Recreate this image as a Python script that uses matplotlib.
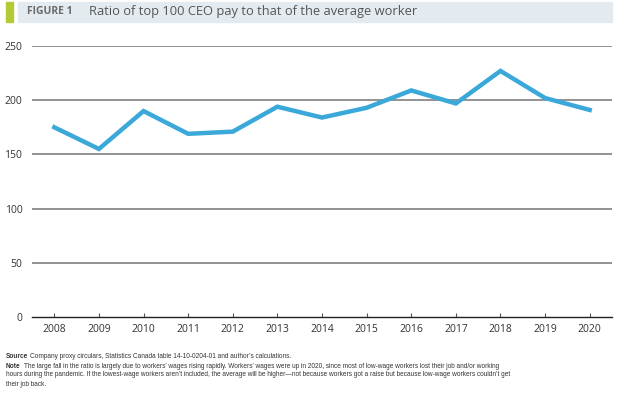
import matplotlib
matplotlib.use('Agg')
import matplotlib.pyplot as plt
from matplotlib.patches import Rectangle

years = [2008, 2009, 2010, 2011, 2012, 2013, 2014, 2015, 2016, 2017, 2018, 2019, 2020]
ratio = [175, 155, 190, 169, 171, 194, 184, 193, 209, 197, 227, 202, 191]
y_ticks = [0, 50, 100, 150, 200, 250]

title_tag = 'FIGURE 1'
title_text = 'Ratio of top 100 CEO pay to that of the average worker'
source_text = 'Company proxy circulars, Statistics Canada table 14-10-0204-01 and author\u2019s calculations.'
note_lines = [
    'The large fall in the ratio is largely due to workers\u2019 wages rising rapidly. Workers\u2019 wages were up in 2020, since most of low-wage workers lost their job and/or working',
    'hours during the pandemic. If the lowest-wage workers aren\u2019t included, the average will be higher\u2014not because workers got a raise but because low-wage workers couldn\u2019t get',
    'their job back.',
]

plt.rcParams['font.family'] = ['Open Sans', 'DejaVu Sans']
W, H = 640, 396
fig = plt.figure(figsize=(6.4, 3.96), dpi=100)

# title bar
fig.patches.append(Rectangle((18 / W, 1 - 22 / H), (612 - 18) / W, 20 / H,
                             transform=fig.transFigure, color='#e3ebf0', zorder=0))
fig.patches.append(Rectangle((6 / W, 1 - 22 / H), 7 / W, 20 / H,
                             transform=fig.transFigure, color='#b5c934', zorder=0))
fig.text(27 / W, 1 - 12 / H, title_tag, fontsize=7.5, fontweight='bold', color='#6b6b6b', va='center')
fig.text(89 / W, 1 - 12 / H, title_text, fontsize=9.3, color='#555555', va='center')

ax = fig.add_axes([32 / W, 1 - 317 / H, (612 - 32) / W, (317 - 46) / H])
ax.plot(years, ratio, color='#3aa8d8', lw=3.2, solid_joinstyle='miter', zorder=3)
ax.set_xlim(2007.5, 2020.5)
ax.set_ylim(0, 250)
ax.set_xticks(years)
ax.set_yticks(y_ticks)
for v in y_ticks[1:]:
    ax.axhline(v, color='#8a8a8a', lw=1.3, zorder=1)
for s in ['top', 'right', 'left']:
    ax.spines[s].set_visible(False)
ax.spines['bottom'].set_color('#222222')
ax.spines['bottom'].set_linewidth(1.0)
ax.tick_params(axis='x', direction='in', length=3, color='#555555', labelsize=7.5, labelcolor='#333333', pad=5)
ax.tick_params(axis='y', length=0, labelsize=7.5, labelcolor='#333333', pad=7)

# footnotes
fs = 4.7
foot = dict(fontsize=fs, color='#333333', va='center', family=['Liberation Sans', 'DejaVu Sans'])
fig.text(6 / W, 1 - 357 / H, 'Source', fontweight='bold', **foot)
fig.text(30 / W, 1 - 357 / H, source_text, **foot)
fig.text(6 / W, 1 - 366 / H, 'Note', fontweight='bold', **foot)
fig.text(24 / W, 1 - 366 / H, note_lines[0], **foot)
fig.text(6 / W, 1 - 375 / H, note_lines[1], **foot)
fig.text(6 / W, 1 - 384 / H, note_lines[2], **foot)

fig.savefig('out.png', dpi=100)
